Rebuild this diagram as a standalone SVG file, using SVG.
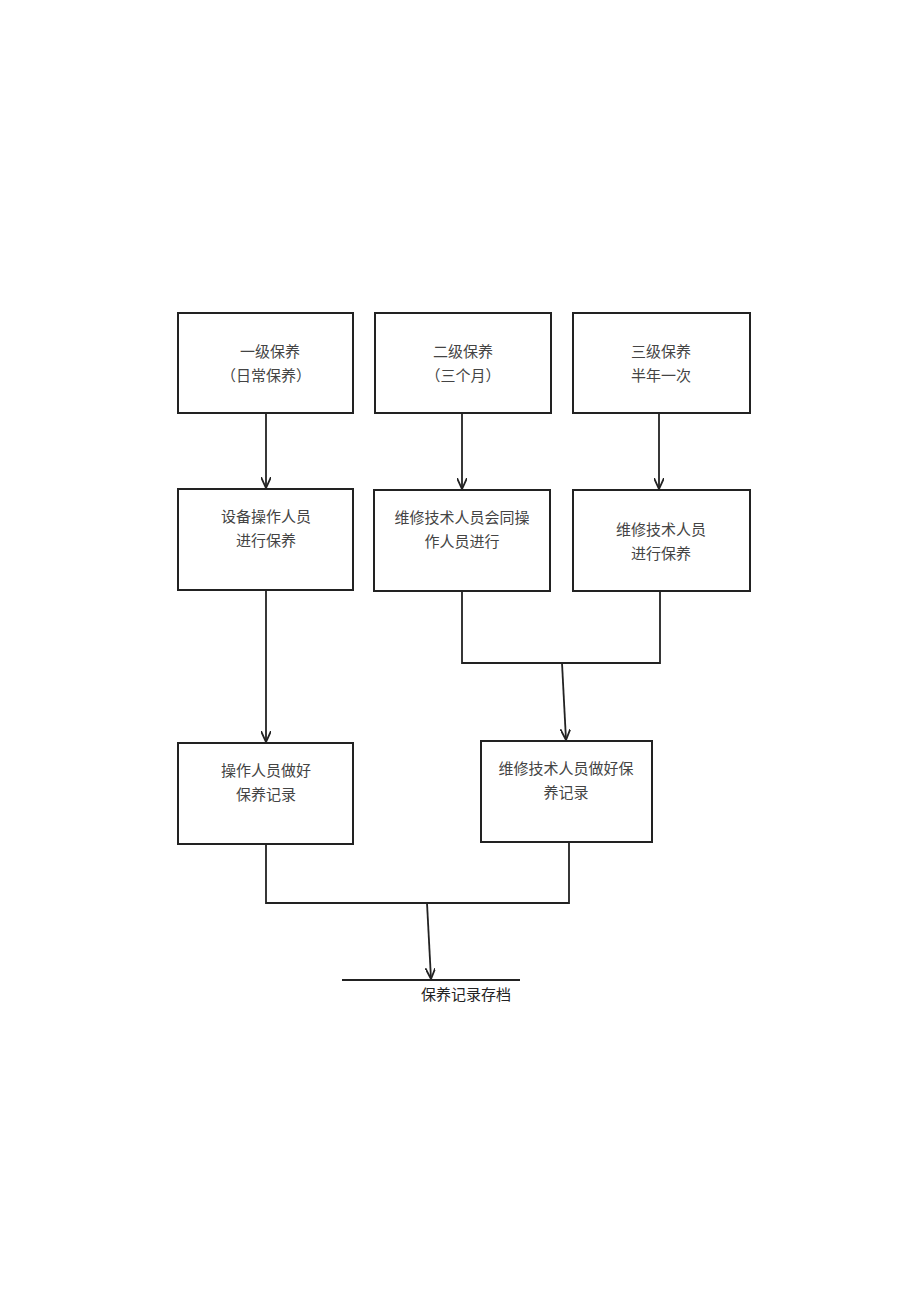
<svg xmlns="http://www.w3.org/2000/svg" width="920" height="1301" viewBox="0 0 920 1301">
<defs>
<style>
.box{fill:#fff;stroke:#222;stroke-width:2}
.t{font-family:"Liberation Serif","Noto Sans CJK SC",serif;font-size:15px;fill:#444;text-anchor:middle}
.c{fill:none;stroke:#222;stroke-width:1.8}
</style>
<marker id="a" viewBox="0 0 12 10" refX="11" refY="5" markerWidth="12" markerHeight="10" orient="auto" markerUnits="userSpaceOnUse">
<path d="M0,0 L11,5 L0,10" fill="none" stroke="#222" stroke-width="1.8"/>
</marker>
</defs>
<rect width="920" height="1301" fill="#fff"/>
<g id="n1"><rect class="box" x="178" y="313" width="175" height="100"/><text class="t" x="270" y="357">一级保养</text><text class="t" x="266" y="381">（日常保养）</text></g>
<g id="n2"><rect class="box" x="375" y="313" width="176" height="100"/><text class="t" x="463" y="357">二级保养</text><text class="t" x="463" y="381">（三个月）</text></g>
<g id="n3"><rect class="box" x="573" y="313" width="177" height="100"/><text class="t" x="661" y="357">三级保养</text><text class="t" x="661" y="381">半年一次</text></g>
<g id="n4"><rect class="box" x="178" y="489" width="175" height="101"/><text class="t" x="266" y="522">设备操作人员</text><text class="t" x="266" y="546">进行保养</text></g>
<g id="n5"><rect class="box" x="374" y="490" width="176" height="101"/><text class="t" x="462" y="523">维修技术人员会同操</text><text class="t" x="462" y="547">作人员进行</text></g>
<g id="n6"><rect class="box" x="573" y="490" width="177" height="101"/><text class="t" x="661" y="535">维修技术人员</text><text class="t" x="661" y="559">进行保养</text></g>
<g id="n7"><rect class="box" x="178" y="743" width="175" height="101"/><text class="t" x="266" y="776">操作人员做好</text><text class="t" x="266" y="800">保养记录</text></g>
<g id="n8"><rect class="box" x="481" y="741" width="171" height="101"/><text class="t" x="566" y="774">维修技术人员做好保</text><text class="t" x="566" y="798">养记录</text></g>
<g id="n9"><line x1="342" y1="980" x2="520" y2="980" stroke="#222" stroke-width="1.8"/><text class="t" x="466" y="1000" style="fill:#222">保养记录存档</text></g>
<g id="connectors">
<line class="c" x1="266" y1="413" x2="266" y2="488" marker-end="url(#a)"/>
<line class="c" x1="462" y1="413" x2="462" y2="489" marker-end="url(#a)"/>
<line class="c" x1="659" y1="413" x2="659" y2="489" marker-end="url(#a)"/>
<line class="c" x1="266" y1="590" x2="266" y2="742" marker-end="url(#a)"/>
<polyline class="c" points="462,591 462,663 660,663 660,591"/>
<line class="c" x1="562" y1="663" x2="566" y2="740" marker-end="url(#a)"/>
<polyline class="c" points="266,844 266,903 569,903 569,842"/>
<line class="c" x1="427" y1="903" x2="431" y2="979" marker-end="url(#a)"/>
</g>
</svg>
